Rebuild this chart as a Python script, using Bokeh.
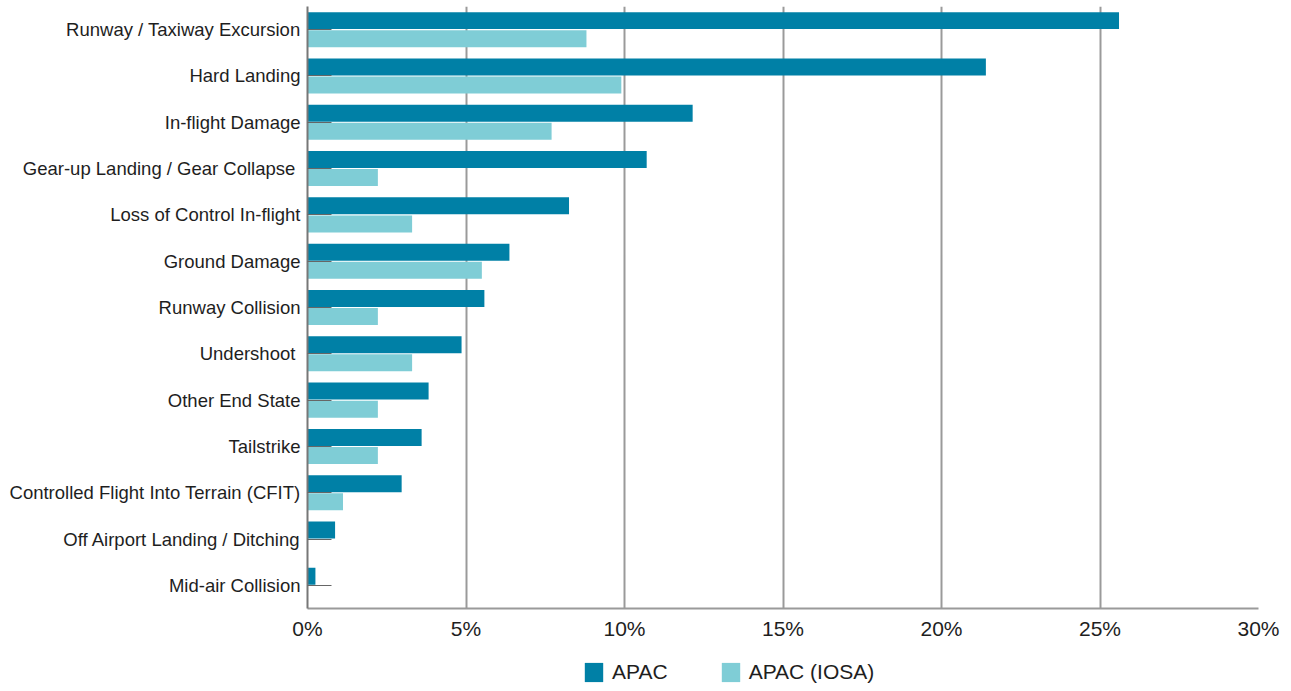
from bokeh.plotting import figure
from bokeh.layouts import column
from bokeh.models import (FactorRange, Range1d, FixedTicker, PrintfTickFormatter,
                          Legend, LegendItem, ColumnDataSource)
from bokeh.transform import dodge
from bokeh.embed import file_html
from bokeh.resources import INLINE

# End-state categories, top to bottom
categories = [
    "Runway / Taxiway Excursion",
    "Hard Landing",
    "In-flight Damage",
    "Gear-up Landing / Gear Collapse ",
    "Loss of Control In-flight",
    "Ground Damage",
    "Runway Collision",
    "Undershoot ",
    "Other End State",
    "Tailstrike",
    "Controlled Flight Into Terrain (CFIT)",
    "Off Airport Landing / Ditching",
    "Mid-air Collision",
]

# Share of accidents, percent
apac = [25.6, 21.4, 12.15, 10.7, 8.25, 6.37, 5.58, 4.86, 3.82, 3.6, 2.97, 0.87, 0.25]
apac_iosa = [8.8, 9.9, 7.7, 2.22, 3.3, 5.5, 2.22, 3.3, 2.22, 2.22, 1.12, 0.0, 0.0]

x_ticks = [0, 5, 10, 15, 20, 25, 30]
series_names = ["APAC", "APAC (IOSA)"]

DARK = "#0080a6"
LIGHT = "#7fcdd6"
FONT = "Liberation Sans"
TEXT = "#1e1e1e"

src = ColumnDataSource(dict(cat=categories, apac=apac, iosa=apac_iosa))

p = figure(
    width=1291, height=643,
    y_range=FactorRange(factors=categories[::-1]),
    x_range=Range1d(0, 30),
    output_backend="svg", toolbar_location=None,
    min_border_left=307, min_border_right=33, min_border_top=6, min_border_bottom=35,
)
p.outline_line_color = None
p.background_fill_color = "white"

p.hbar(y=dodge("cat", 0.195, range=p.y_range), right="apac", left=0, height=0.367,
       source=src, color=DARK, line_color=None)
p.hbar(y=dodge("cat", -0.195, range=p.y_range), right="iosa", left=0, height=0.367,
       source=src, color=LIGHT, line_color=None)

# vertical grid
p.ygrid.grid_line_color = None
p.xgrid.ticker = FixedTicker(ticks=x_ticks)
p.xgrid.grid_line_color = "#9a9a9a"
p.xgrid.grid_line_width = 2

# x axis
xa = p.xaxis[0]
xa.ticker = FixedTicker(ticks=x_ticks)
xa.formatter = PrintfTickFormatter(format="%d%%")
xa.major_tick_in = 0
xa.major_tick_out = 0
xa.minor_tick_line_color = None
xa.axis_line_color = "#9a9a9a"
xa.axis_line_width = 2
xa.major_label_text_font = FONT
xa.major_label_text_font_size = "21px"
xa.major_label_text_color = TEXT
xa.major_label_standoff = 8

# y axis with short inward ticks
ya = p.yaxis[0]
ya.major_tick_in = 24
ya.major_tick_out = 0
ya.major_tick_line_color = "#666666"
ya.major_tick_line_width = 1
ya.axis_line_color = "#777777"
ya.axis_line_width = 2
ya.major_label_text_font = FONT
ya.major_label_text_font_size = "18.5px"
ya.major_label_text_color = TEXT
ya.major_label_standoff = 7

# legend strip under the chart (its frame lines up with the chart frame)
lg = figure(
    width=1291, height=48, x_range=Range1d(0, 1), y_range=Range1d(0, 1),
    output_backend="svg", toolbar_location=None,
    min_border=0, outline_line_color=None,
)
lg.axis.visible = False
lg.grid.visible = False
k1 = lg.quad(left=[-3], right=[-2], bottom=[-3], top=[-2], color=DARK, line_color=None)
k2 = lg.quad(left=[-3], right=[-2], bottom=[-3], top=[-2], color=LIGHT, line_color=None)

legend = Legend(
    items=[LegendItem(label=series_names[0], renderers=[k1]),
           LegendItem(label=series_names[1], renderers=[k2])],
    orientation="horizontal",
    location=(275, 7),
    margin=0, padding=0, spacing=51,
    glyph_width=23, glyph_height=24, label_standoff=7,
    label_text_font=FONT, label_text_font_size="21px", label_text_color=TEXT,
    border_line_color=None, background_fill_alpha=0,
)
lg.add_layout(legend)

layout = column(p, lg, spacing=0)
open("out.html", "w").write(file_html(layout, INLINE))
